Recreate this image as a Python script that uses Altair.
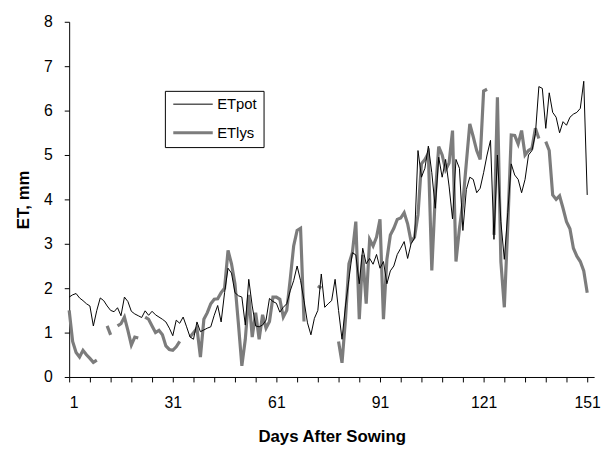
import altair as alt
import pandas as pd

days = list(range(1, 152))

et_pot = [
    1.80, 1.85, 1.88, 1.78, 1.72, 1.65, 1.60, 1.15, 1.50, 1.78,
    1.72, 1.60, 1.50, 1.47, 1.56, 1.38, 1.80, 1.70, 1.48, 1.42,
    1.38, 1.34, 1.49, 1.39, 1.48, 1.40, 1.35, 1.30, 1.24, 1.10,
    0.93, 1.28, 1.21, 1.35, 1.13, 0.90, 0.85, 1.24, 1.02, 1.06,
    1.10, 1.13, 1.39, 1.61, 1.24, 1.90, 2.45, 2.34, 1.90, 1.83,
    1.80, 1.17, 2.20, 1.60, 1.15, 1.13, 1.17, 1.28, 1.77, 1.70,
    1.66, 1.46, 1.57, 1.65, 1.94, 2.17, 2.50, 2.17, 1.72, 1.22,
    0.95, 1.32, 1.50, 2.32, 1.57, 1.65, 1.72, 2.20, 1.50, 0.85,
    1.60, 2.20, 2.80, 2.75, 2.10, 2.90, 2.55, 2.67, 2.54, 2.76,
    2.45, 2.60, 2.10, 2.39, 2.50, 2.76, 2.90, 3.05, 2.67, 3.00,
    3.13, 5.10, 4.50, 4.70, 5.20, 4.60, 3.80, 4.95, 4.50, 4.90,
    4.30, 3.56, 4.90, 4.70, 3.30, 4.22, 4.50, 4.45, 4.15, 4.25,
    4.60, 5.00, 5.33, 3.10, 5.00, 3.50, 2.65, 3.70, 4.80, 4.55,
    4.45, 4.15, 4.45, 5.00, 5.10, 5.48, 6.54, 6.50, 5.60, 6.40,
    5.96, 5.85, 5.50, 5.75, 5.67, 5.85, 5.92, 5.96, 6.05, 6.66,
    4.10,
]

et_lys = [
    1.50, 0.80, 0.55, 0.45, 0.60, 0.50, 0.42, 0.33, 0.38, None,
    None, 1.15, 0.95, None, 1.15, 1.20, 1.35, 1.05, 0.72, 0.90,
    0.88, None, 1.35, 1.30, 1.15, 1.00, 1.05, 0.95, 0.70, 0.62,
    0.60, 0.68, 0.80, None, None, 0.90, 1.00, 1.10, 0.45, 1.30,
    1.45, 1.65, 1.75, 1.76, 1.90, 2.00, 2.85, 2.55, 2.10, 1.20,
    0.25, 0.85, 1.85, 0.90, 1.45, 0.85, 1.40, 1.10, 1.25, 1.80,
    1.80, 1.75, 1.35, 1.50, 2.20, 2.95, 3.30, 3.35, 1.25, None,
    None, None, 2.05, 2.00, None, None, None, None, 0.80, 0.32,
    1.30, 2.55, 2.80, 3.50, 1.30, 2.75, 1.65, 3.10, 2.95, 3.15,
    3.55, 1.30, 2.65, 3.20, 3.35, 3.55, 3.58, 3.70, 3.45, 3.05,
    3.15, 3.65, 4.80, 4.90, 5.04, 2.40, 4.08, 5.19, 5.00, 4.67,
    4.82, 5.55, 2.60, 3.34, 3.93, 4.82, 5.70, 5.41, 5.10, 4.90,
    6.44, 6.48, None, 3.20, 6.30, 2.60, 1.57, 3.40, 5.45, 5.44,
    5.25, 5.55, 5.00, 5.10, 5.15, 5.60, 5.37, None, 5.30, 5.10,
    4.10, 4.00, 4.08, 3.80, 3.50, 3.34, 2.90, 2.72, 2.60, 2.39,
    1.90,
]

series_names = ["ETpot", "ETlys"]
series_colors = ["#000000", "#7c7c7c"]
series_widths = [1.0, 3.2]
x_ticks = list(range(1, 152, 6))
y_ticks = list(range(0, 9))

rows = []
for name, vals in zip(series_names, [et_pot, et_lys]):
    seg = 0
    for d, v in zip(days, vals):
        if v is None:
            seg += 1
            continue
        rows.append({"day": d, "et": v, "series": name, "seg": f"{name}-{seg}"})
df = pd.DataFrame(rows)

legend = alt.Legend(
    title=None,
    orient="none",
    legendX=97,
    legendY=70,
    symbolType="M-1,0H7",
    symbolSize=100,
    labelFont="Liberation Sans",
    labelFontSize=15,
    labelColor="black",
    labelOffset=32,
    rowPadding=13,
    padding=6,
    strokeColor="black",
    fillColor="white",
)

color = alt.Color("series:N", scale=alt.Scale(domain=series_names, range=series_colors), legend=legend)
swidth = alt.StrokeWidth("series:N", scale=alt.Scale(domain=series_names, range=series_widths), legend=legend)

axis_common = dict(
    grid=False,
    tickSize=5,
    domainColor="black",
    tickColor="black",
    labelColor="black",
    titleColor="black",
    labelFont="Liberation Sans Narrow, Liberation Sans",
    labelFontSize=16,
    titleFont="Liberation Sans",
    titleFontSize=17,
    titleFontWeight="bold",
    format="d",
)

x = alt.X(
    "day:Q",
    scale=alt.Scale(domain=[1, 153], nice=False, zero=False),
    axis=alt.Axis(
        values=x_ticks,
        labelExpr="(datum.value - 1) % 30 == 0 ? datum.label : ''",
        labelOverlap=False,
        title="Days After Sowing",
        labelPadding=13,
        titlePadding=18,
        **axis_common,
    ),
)
y = alt.Y(
    "et:Q",
    scale=alt.Scale(domain=[0, 8], nice=False),
    axis=alt.Axis(
        values=y_ticks,
        title="ET, mm",
        labelPadding=12,
        titlePadding=11,
        **axis_common,
    ),
)

base = alt.Chart(df).mark_line(strokeJoin="miter", strokeCap="butt").encode(
    x=x, y=y, color=color, strokeWidth=swidth, detail="seg:N"
)

gray = base.transform_filter(alt.datum.series == "ETlys")
black = base.transform_filter(alt.datum.series == "ETpot")

chart = (
    alt.layer(gray, black)
    .properties(
        width=532,
        height=360,
        background="white",
        autosize=alt.AutoSizeParams(type="none"),
        padding={"left": 62, "top": 11, "right": 9, "bottom": 70},
    )
    .configure_view(stroke=None)
)

chart.save("out.html", embed_options={"renderer": "svg", "actions": False})
